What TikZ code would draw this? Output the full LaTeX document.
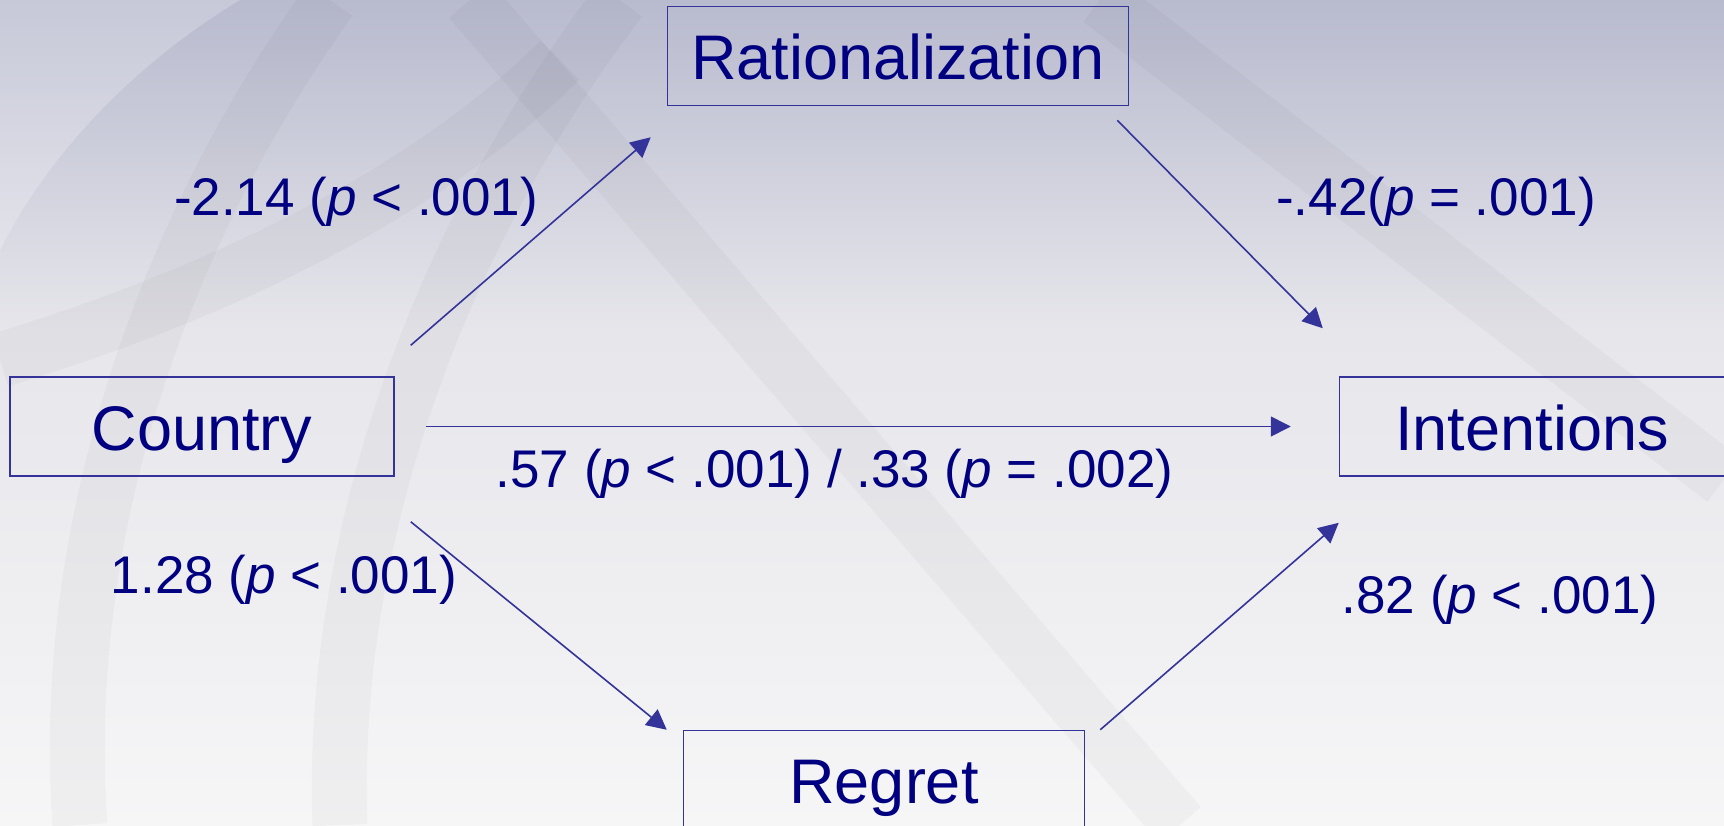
\documentclass[tikz,border=0pt]{standalone}
\usepackage{fontspec}
\setmainfont{Liberation Sans}
\usetikzlibrary{positioning,arrows.meta}
\definecolor{navytext}{RGB}{0,0,128}
\definecolor{linkblue}{RGB}{51,51,153}
\definecolor{bgtop}{RGB}{184,186,206}
\definecolor{bgmid}{RGB}{230,230,235}
\definecolor{bgbottom}{RGB}{246,246,247}

\begin{document}
\begin{tikzpicture}[
    x=1pt, y=-1pt,
    box/.style={rectangle, draw=linkblue, line width=1.5pt, minimum height=99pt, text height=47pt, text depth=0pt, inner sep=0pt, text=navytext, font=\fontsize{63}{70}\selectfont},
    coef/.style={anchor=base, inner sep=0pt, text=navytext, font=\fontsize{53}{60}\selectfont},
    band/.style={line width=55pt, draw=black, draw opacity=0.028},
    arrow/.style={line width=1.6pt, draw=linkblue, ->, >={Triangle[length=20pt,width=20pt]}}
]

% Background
\useasboundingbox (0,0) rectangle (1724,825);
\clip (0,0) rectangle (1724,825);
\shade[top color=bgtop, bottom color=bgmid] (0,0) rectangle (1724,330);
\shade[top color=bgmid, bottom color=bgbottom] (0,330) rectangle (1724,825);
\fill[white, opacity=0.22] (0,0) -- (240,0) .. controls (140,60) and (50,150) .. (0,250) -- cycle;
\draw[band] (330,0) .. controls (150,250) and (60,550) .. (80,825);
\draw[band] (620,0) .. controls (430,250) and (330,550) .. (340,825);
\draw[band] (0,360) .. controls (200,300) and (420,200) .. (560,60);
\draw[band] (470,0) -- (1180,825);
\draw[band] (1100,0) -- (1724,480);

\node (country) [box, minimum width=384pt] at (202,426.5) {Country};
\node (ratio) [box, minimum width=461pt, above right=270pt and 272pt of country] {Rationalization};
\node (regret) [box, minimum width=401pt, below right=253pt and 288pt of country] {Regret};
\node (intent) [box, minimum width=385pt, right=944pt of country] {Intentions};

\node (ca) [coef] at (356,215) {-2.14 (\textit{p} < .001)};
\node (cb) [coef] at (1436,215) {-.42(\textit{p} = .001)};
\node (cc) [coef] at (834.5,487) {.57 (\textit{p} < .001) / .33 (\textit{p} = .002)};
\node (cd) [coef] at (284,593) {1.28 (\textit{p} < .001)};
\node (ce) [coef] at (1500,613) {.82 (\textit{p} < .001)};

% Arrows
\draw[arrow] ([xshift=16pt,yshift=31pt]country.north east) -- ([xshift=-16pt,yshift=-31pt]ratio.south west);
\draw[arrow] ([xshift=16pt,yshift=-45pt]country.south east) -- ([xshift=-16pt]regret.north west);
\draw[arrow] ([xshift=31pt]country.east) -- ([xshift=-48pt]intent.west);
\draw[arrow] ([xshift=-12pt,yshift=-14pt]ratio.south east) -- ([xshift=-16pt,yshift=48pt]intent.north west);
\draw[arrow] ([xshift=15pt]regret.north east) -- ([yshift=-46pt]intent.south west);

\end{tikzpicture}
\end{document}
